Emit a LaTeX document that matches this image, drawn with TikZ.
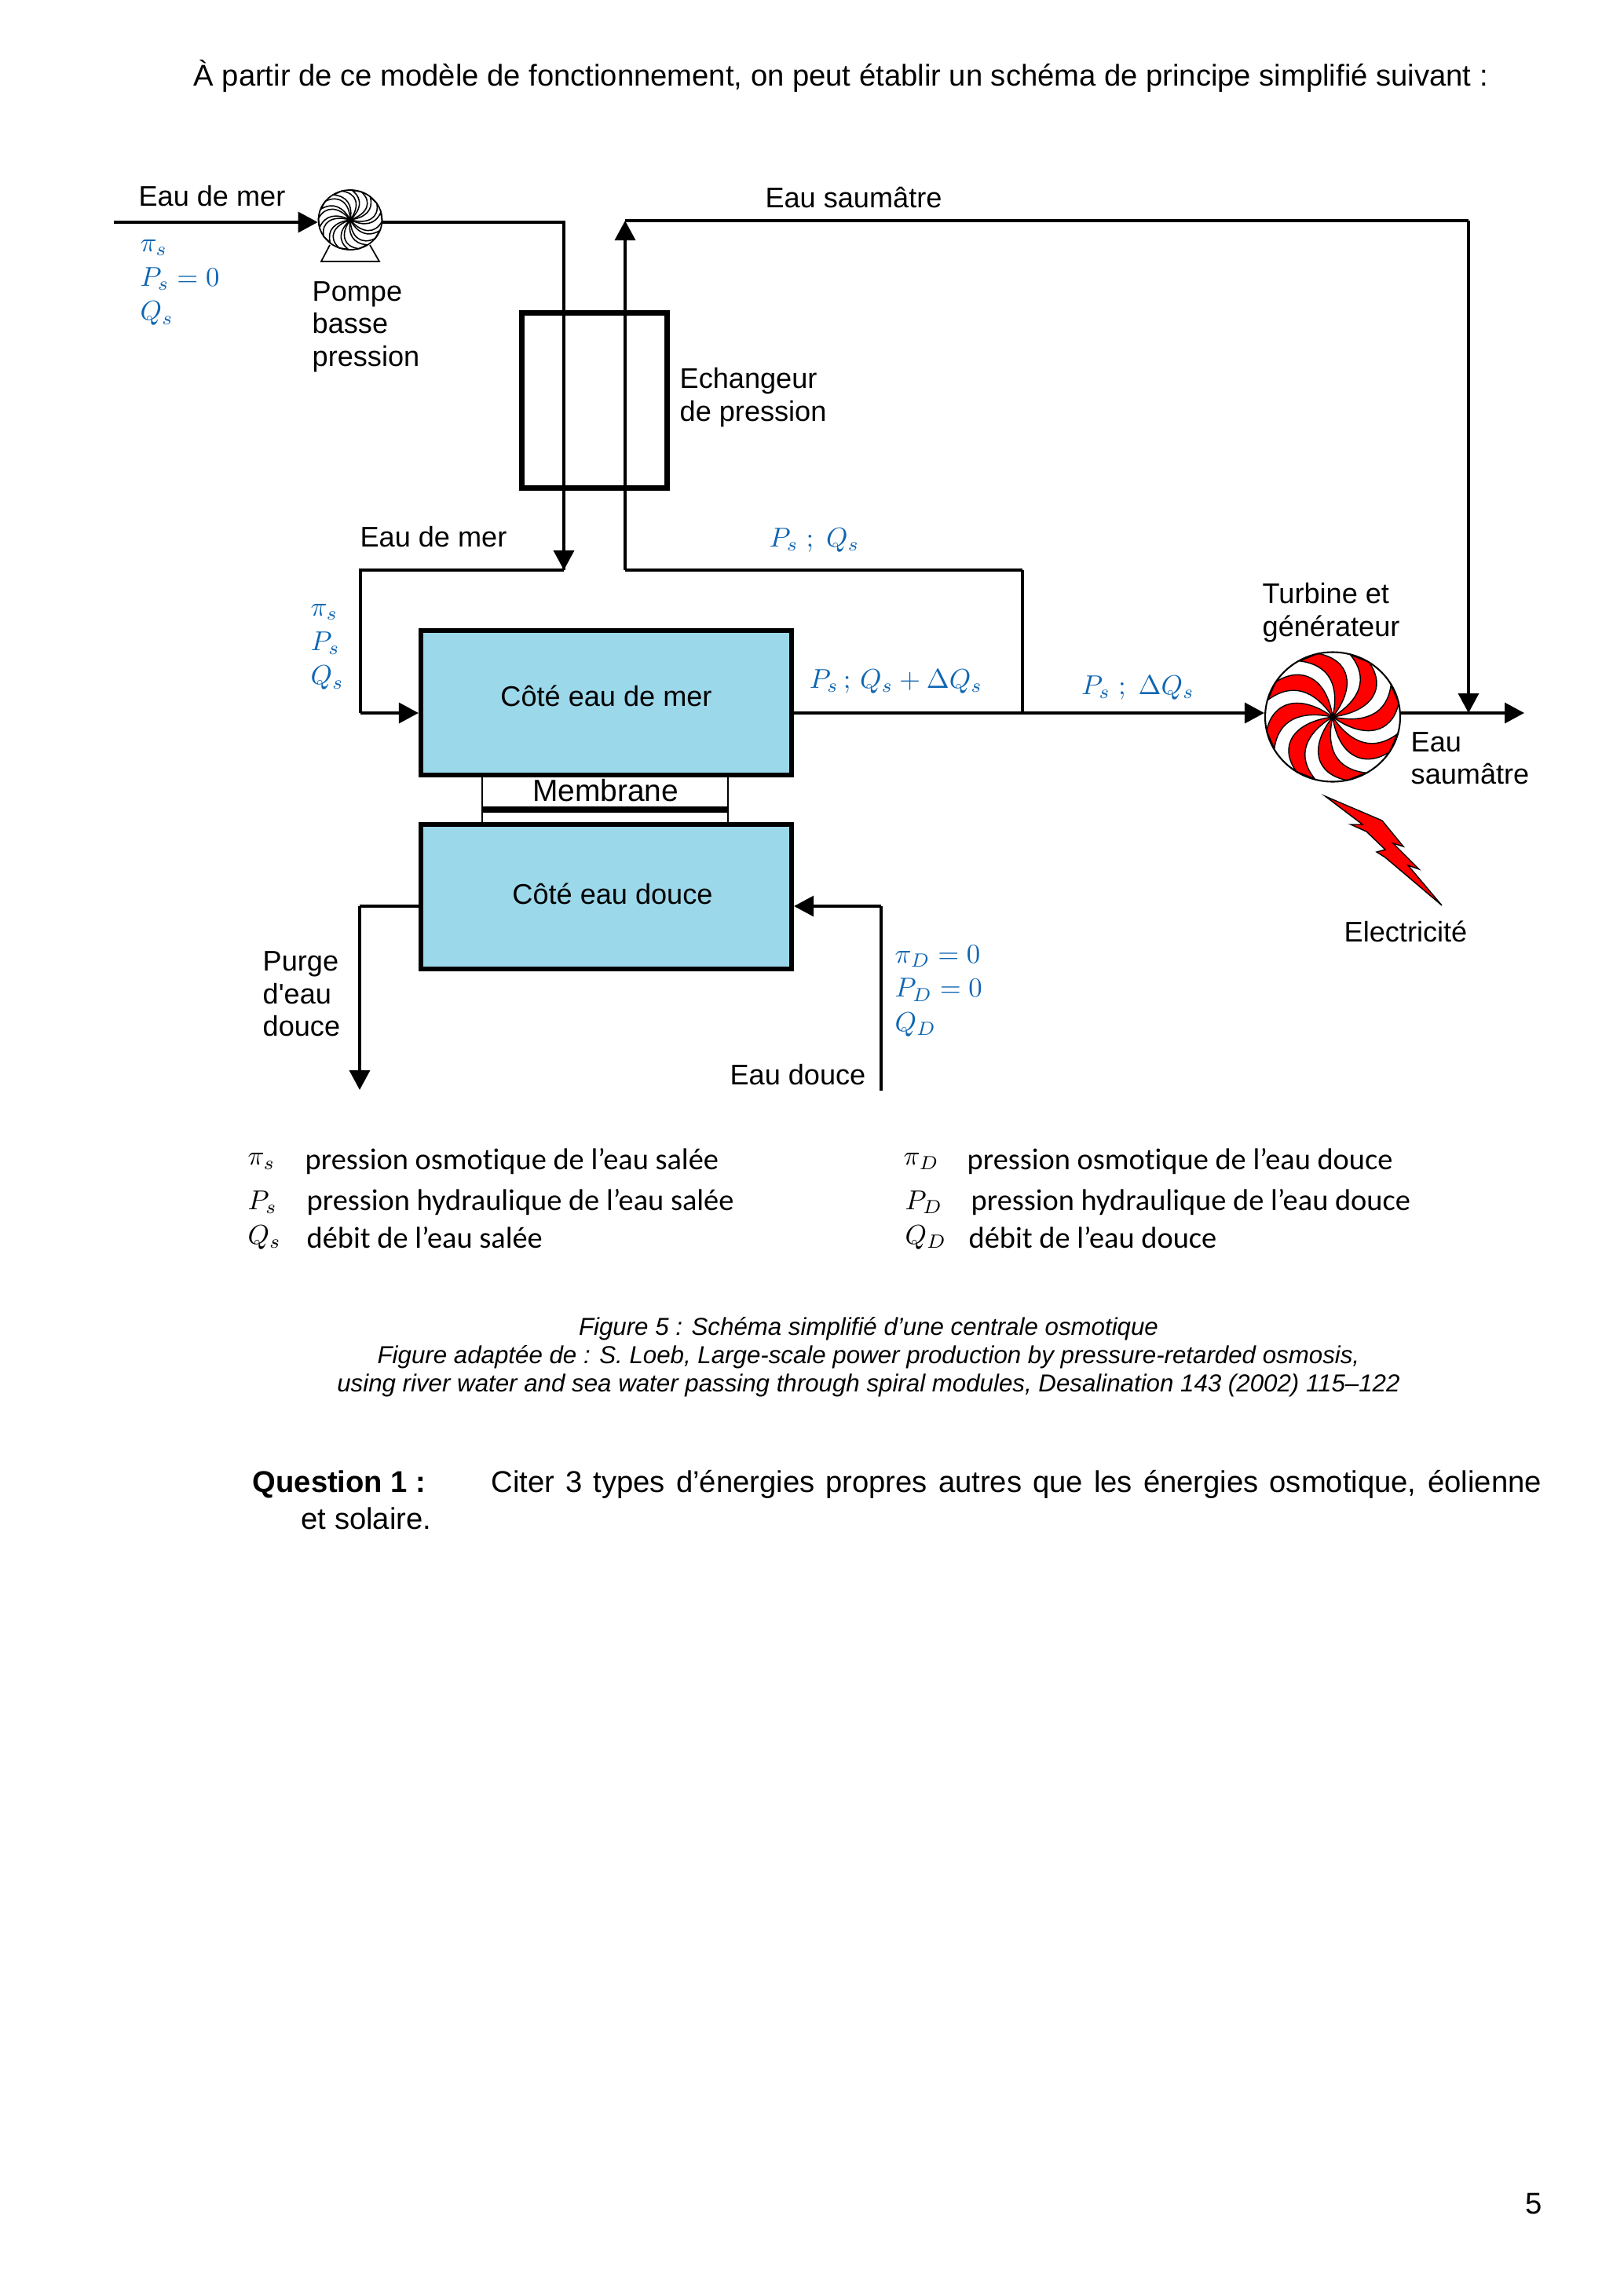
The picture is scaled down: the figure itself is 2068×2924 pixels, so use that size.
\documentclass[tikz,border=0pt]{standalone}
\usepackage{fontspec}
\usepackage{xcolor}
\setmainfont{Liberation Sans}
\newfontfamily\legendfont[Ligatures=NoCommon]{Carlito}
\usetikzlibrary{shapes.geometric, arrows.meta, positioning, calc}
\definecolor{boxblue}{HTML}{9BD8EA}
\definecolor{parblue}{HTML}{0F66B2}
\newcommand{\bladepath}{(0,0) .. controls (0.35,0.35) and (0.4,0.7) .. (0.06,0.99) -- (0.35,0.94) .. controls (0.7,0.6) and (0.55,0.2) .. (0,0)}

\begin{document}
\begin{tikzpicture}[
    x=0.28786pt, y=-0.28786pt,
    sidebox/.style={draw, line width=1.65pt, fill=boxblue, minimum width=136pt, minimum height=53pt},
    exchbox/.style={draw, line width=2pt, minimum width=53pt, minimum height=64pt},
    lbl/.style={font=\fontsize{10.4}{11.9}\selectfont, align=left, inner sep=0pt},
    param/.style={text=parblue, font=\fontsize{10.3}{12.6}\selectfont, align=left, inner sep=0pt},
    legtxt/.style={font=\legendfont\fontsize{11.05}{13}\selectfont, anchor=west, inner sep=0pt},
    legsym/.style={font=\fontsize{10}{13}\selectfont, anchor=west, inner sep=0pt},
    pagetxt/.style={font=\fontsize{11}{13}\selectfont, inner sep=0pt},
    capt/.style={font=\itshape\fontsize{9}{10.3}\selectfont, align=center, inner sep=0pt},
    flow/.style={line width=0.95pt},
    arr/.style={flow, -{Triangle[length=7.2pt, width=7.5pt]}},
]
\useasboundingbox (0,0) rectangle (2068,2924);

\node[pagetxt, anchor=west] (intro) at (246,97) {À partir de ce modèle de fonctionnement, on peut établir un schéma de principe simplifié suivant :};

\coordinate (pumpc) at (446,280);
\coordinate (turbc) at (1697,913);
\begin{scope}[shift={(pumpc)}, xscale=40.5, yscale=-38]
\foreach \a in {0,36,...,324}
    \draw[line width=0.45pt, rotate=\a] \bladepath;
\end{scope}
\begin{scope}[shift={(turbc)}, xscale=86, yscale=-82.5]
\foreach \a in {12,57,...,327}
    \fill[red, draw=black, line width=0.4pt, rotate=\a] \bladepath;
\end{scope}
\node[draw, ellipse, line width=0.5pt, minimum width=23.3pt, minimum height=21.9pt, inner sep=0pt] (pump) at (pumpc) {};
\node[draw, ellipse, line width=0.6pt, minimum width=49.5pt, minimum height=47.5pt, inner sep=0pt] (turbine) at (turbc) {};
\draw[line width=0.5pt] (420,312) -- (409,333) -- (483,333) -- (471,312);

\node[exchbox] (exch) at (757,510) {};
\node[sidebox] (mer) at (772,895) {};
\node[sidebox] (douce) at (772,1142) {};
\node[lbl] (mertxt) at (772,886) {Côté eau de mer};
\node[lbl] (doucetxt) at (780,1138) {Côté eau douce};

\coordinate (seain) at (145,283);
\coordinate (c1) at (718,283);
\coordinate (c2) at (718,726);
\coordinate (c3) at (459,726);
\coordinate (c4) at (459,908);
\coordinate (up1) at (796,726);
\coordinate (up2) at (796,281);
\coordinate (c5) at (1870,281);
\coordinate (c6) at (1870,908);
\coordinate (c7) at (1302,726);
\coordinate (c8) at (1302,908);
\coordinate (outend) at (1941,908);
\coordinate (purge1) at (458,1154);
\coordinate (purge2) at (458,1388);
\coordinate (fresh1) at (1122,1389);
\coordinate (fresh2) at (1122,1154);

\draw[arr] (seain) -- (seain -| pump.west);
\draw[flow] (seain -| pump.east) -- (c1) -- (c2);
\draw[arr] (c1) -- (c2);
\draw[flow] (c2) -- (c3) -- (c4);
\draw[arr] (c4) -- (c4 -| mer.west);
\draw[flow] (c7) -- (up1);
\draw[arr] (up1) -- (up2);
\draw[flow] (up2) -- (c5);
\draw[arr] (c5) -- (c6);
\draw[flow] (c7) -- (c8);
\draw[flow] (c8 -| mer.east) -- (c8);
\draw[arr] (c8) -- (c8 -| turbine.west);
\draw[arr] (c8 -| turbine.east) -- (outend);
\draw[flow] (purge1 -| douce.west) -- (purge1);
\draw[arr] (purge1) -- (purge2);
\draw[flow] (fresh1) -- (fresh2);
\draw[arr] (fresh2) -- (fresh2 -| douce.east);

\draw[line width=0.6pt] (614,988) -- (614,1047);
\draw[line width=0.6pt] (927,988) -- (927,1047);
\draw[line width=2.1pt] (614,1031) -- (927,1031);
\node[lbl, font=\fontsize{11.2}{12}\selectfont] (memb) at (771,1007) {Membrane};

\fill[red, draw=black, line width=0.4pt] (1687.5,1014) -- (1760,1045) -- (1787,1078) -- (1774,1074) -- (1807,1107) -- (1793,1102) -- (1836,1153) -- (1764,1092) -- (1753,1085) -- (1764,1082) -- (1740,1059) -- (1720,1050) -- (1735,1050) -- cycle;

\node[lbl] (l1) at (270,250) {Eau de mer};
\node[lbl, anchor=west] (l2) at (397,416) {Pompe\\basse\\pression};
\node[lbl] (l3) at (1087,252) {Eau saumâtre};
\node[lbl, anchor=west] (l4) at (865,506) {Echangeur\\de pression};
\node[lbl] (l5) at (552,684) {Eau de mer};
\node[lbl, anchor=west] (l6) at (1607,780) {Turbine et\\générateur};
\node[lbl, anchor=west] (l7) at (1796,966) {Eau\\saumâtre};
\node[lbl] (l8) at (1790,1186) {Electricité};
\node[lbl, anchor=west] (l9) at (334,1266) {Purge\\d\textquotesingle eau\\douce};
\node[lbl] (l10) at (1016,1369) {Eau douce};

\node[param, anchor=west] (p1) at (178,360) {$\pi_s$\\$P_s=0$\\$Q_s$};
\node[param, anchor=west] (p2) at (395,824) {$\pi_s$\\$P_s$\\$Q_s$};
\node[param] (p3) at (1037,688) {$P_s\ ;\ Q_s$};
\node[param] (p4) at (1141,868) {$P_s\,;\,Q_s+\Delta Q_s$};
\node[param] (p5) at (1449,876) {$P_s\ ;\ \Delta Q_s$};
\node[param, anchor=west] (p6) at (1139,1262) {$\pi_D=0$\\$P_D=0$\\$Q_D$};

\node[legsym] (s1) at (315,1479) {$\pi_s$};
\node[legtxt] (t1) at (388,1479) {pression osmotique de l’eau salée};
\node[legsym] (s2) at (315,1531) {$P_s$};
\node[legtxt] (t2) at (390,1531) {pression hydraulique de l’eau salée};
\node[legsym] (s3) at (315,1576) {$Q_s$};
\node[legtxt] (t3) at (390,1576) {débit de l’eau salée};
\node[legsym] (s4) at (1150,1479) {$\pi_D$};
\node[legtxt] (t4) at (1231,1479) {pression osmotique de l’eau douce};
\node[legsym] (s5) at (1152,1531) {$P_D$};
\node[legtxt] (t5) at (1236,1531) {pression hydraulique de l’eau douce};
\node[legsym] (s6) at (1152,1576) {$Q_D$};
\node[legtxt] (t6) at (1233,1576) {débit de l’eau douce};

\node[capt] (cap) at (1106,1728) {Figure 5 : Schéma simplifié d’une centrale osmotique\\Figure adaptée de : S. Loeb, Large-scale power production by pressure-retarded osmosis,\\using river water and sea water passing through spiral modules, Desalination 143 (2002) 115--122};

\node[pagetxt, anchor=west, font=\bfseries\fontsize{11}{13}\selectfont] (q1) at (321,1890) {Question 1 :};
\node[pagetxt, anchor=west] (q2) at (625,1890) {\makebox[385pt][s]{Citer 3 types d’énergies propres autres que les énergies osmotique, éolienne}};
\node[pagetxt, anchor=west] (q3) at (383,1934) {et solaire.};
\node[pagetxt, anchor=east] (pnum) at (1964,2807) {5};
\end{tikzpicture}
\end{document}
